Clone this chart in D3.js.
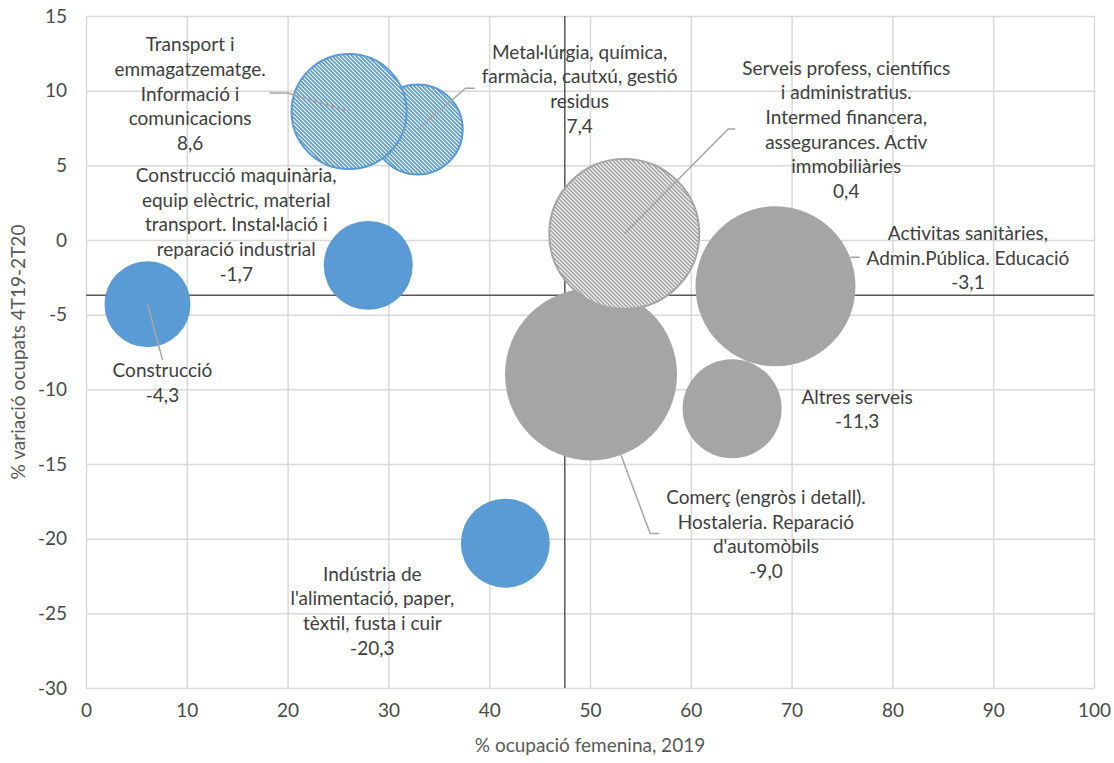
<!DOCTYPE html>
<html><head><meta charset="utf-8">
<script src="https://cdn.jsdelivr.net/npm/d3@7"></script>
<style>
body{margin:0;background:#fff}
text{font-family:Lato,"Open Sans",sans-serif}
</style>
</head><body>
<svg id="chart" width="1114" height="763"></svg>
<script>
// ---------- DATA ----------
const sectors = [
  "Construcció",
  "Construcció maquinària, equip elèctric, material transport. Instal·lació i reparació industrial",
  "Transport i emmagatzematge. Informació i comunicacions",
  "Metal·lúrgia, química, farmàcia, cautxú, gestió residus",
  "Serveis profess, científics i administratius. Intermed financera, assegurances. Activ immobiliàries",
  "Comerç (engròs i detall). Hostaleria. Reparació d'automòbils",
  "Activitas sanitàries, Admin.Pública. Educació",
  "Altres serveis",
  "Indústria de l'alimentació, paper, tèxtil, fusta i cuir"
];
const labelLines = [
  ["Construcció"],
  ["Construcció maquinària,","equip elèctric, material","transport. Instal·lació i","reparació industrial"],
  ["Transport i","emmagatzematge.","Informació i","comunicacions"],
  ["Metal·lúrgia, química,","farmàcia, cautxú, gestió","residus"],
  ["Serveis profess, científics","i administratius.","Intermed financera,","assegurances. Activ","immobiliàries"],
  ["Comerç (engròs i detall).","Hostaleria. Reparació","d'automòbils"],
  ["Activitas sanitàries,","Admin.Pública. Educació"],
  ["Altres serveis"],
  ["Indústria de","l'alimentació, paper,","tèxtil, fusta i cuir"]
];
const femShare   = [6.1, 28.0, 26.1, 32.9, 53.4, 50.1, 68.4, 64.1, 41.6];   // % ocupació femenina 2019
const empChange  = [-4.3, -1.7, 8.6, 7.4, 0.4, -9.0, -3.1, -11.3, -20.3]; // % variació ocupats
const employment = [185, 198, 331, 203, 563, 740, 640, 245, 198];          // bubble size
const fillKind   = ["blue","blue","blueHatch","blueHatch","grayHatch","gray","gray","gray","blue"];
const xTicks = d3.range(0, 101, 10);
const yTicks = d3.range(-30, 16, 5);
const xCross = 47.5, yCross = -3.7;
const xTitle = "% ocupació femenina, 2019";
const yTitle = "% variació ocupats 4T19-2T20";

// ---------- LAYOUT ----------
const plot = {left: 86, right: 1094, top: 16, bottom: 688};
const FS = 19, LH = 24.7;
const colors = {blue: "#5b9bd5", gray: "#a5a5a5", grid: "#d9d9d9", axis: "#595959", tick: "#4a4a4a", text: "#404040", leader: "#a6a6a6"};
const labelPos = [
  {dx: 15,   dy: 66,   leader: "top"},
  {dx: -132, dy: -90,  leader: null},
  {dx: -159, dy: -67,  leader: "right", elbow: 18},
  {dx: 162,  dy: -77.5,leader: "left", elbow: 9},
  {dx: 222,  dy: -166, leader: "left", elbow: 7},
  {dx: 175,  dy: 123,  leader: "left", elbow: 9},
  {dx: 192.5,dy: -53,  leader: "left", elbow: 8},
  {dx: 125,  dy: -11.6,leader: null},
  {dx: -133, dy: 31,   leader: null}
];
const drawOrder = [5, 6, 7, 4, 3, 2, 0, 1, 8];

const loc = d3.formatLocale({decimal: ",", thousands: ".", grouping: [3], currency: ["", "€"], minus: "-"});
const fmt1 = loc.format(".1f"), fmt0 = loc.format("d");

const svg = d3.select("#chart");
const x = d3.scaleLinear().domain([0, 100]).range([plot.left, plot.right]);
const y = d3.scaleLinear().domain([-30, 15]).range([plot.bottom, plot.top]);
const r = d3.scaleSqrt().domain([0, 740]).range([0, 86]);

// patterns
const defs = svg.append("defs");
function hatch(id, color) {
  const p = defs.append("pattern").attr("id", id).attr("patternUnits", "userSpaceOnUse")
    .attr("width", 4).attr("height", 4);
  p.append("rect").attr("width", 4).attr("height", 4).attr("fill", "#fff");
  p.append("path").attr("d", "M-1,-1L5,5M-1,3L1,5M3,-1L5,1")
    .attr("stroke", color).attr("stroke-width", 1.7);
}
hatch("hBlue", colors.blue);
hatch("hGray", colors.gray);
const fillOf = k => ({blue: colors.blue, gray: colors.gray, blueHatch: "url(#hBlue)", grayHatch: "url(#hGray)"})[k];
const strokeOf = k => ({blue: "none", gray: "none", blueHatch: colors.blue, grayHatch: colors.gray})[k];

// gridlines + tick labels
const gx = svg.append("g").attr("transform", `translate(0,${plot.bottom})`)
  .call(d3.axisBottom(x).tickValues(xTicks).tickSize(-(plot.bottom - plot.top)).tickFormat(fmt0).tickPadding(16));
const gy = svg.append("g").attr("transform", `translate(${plot.left},0)`)
  .call(d3.axisLeft(y).tickValues(yTicks).tickSize(-(plot.right - plot.left)).tickFormat(fmt0).tickPadding(19));
[gx, gy].forEach(g => {
  g.select(".domain").remove();
  g.selectAll(".tick line").attr("stroke", colors.grid).attr("stroke-width", 1.5);
  g.selectAll(".tick text").attr("fill", colors.tick).attr("font-size", FS).attr("font-family", "Lato");
});

// crossing lines
svg.append("line").attr("x1", x(xCross)).attr("x2", x(xCross)).attr("y1", plot.top).attr("y2", plot.bottom)
  .attr("stroke", colors.axis).attr("stroke-width", 1.5);
svg.append("line").attr("x1", plot.left).attr("x2", plot.right).attr("y1", y(yCross)).attr("y2", y(yCross))
  .attr("stroke", colors.axis).attr("stroke-width", 1.5);

// bubbles
svg.append("g").selectAll("circle").data(drawOrder).join("circle")
  .attr("cx", i => x(femShare[i])).attr("cy", i => y(empChange[i])).attr("r", i => r(employment[i]))
  .attr("fill", i => fillOf(fillKind[i])).attr("stroke", i => strokeOf(fillKind[i]))
  .attr("stroke-width", 2);

// labels + leader lines
const leaderG = svg.append("g");
const labelG = svg.append("g");
sectors.forEach((s, i) => {
  const cx = x(femShare[i]), cy = y(empChange[i]);
  const p = labelPos[i];
  const lines = labelLines[i].concat([fmt1(empChange[i])]);
  const t = labelG.append("text").attr("text-anchor", "middle").attr("font-size", FS).attr("fill", colors.text);
  lines.forEach((ln, k) => {
    t.append("tspan").attr("x", cx + p.dx).attr("y", cy + p.dy + k * LH).attr("dy", "0.35em").text(ln);
  });
  if (p.leader) {
    const b = t.node().getBBox();
    let pts;
    if (p.leader === "top") {
      pts = [[cx + p.dx, b.y + 2], [cx, cy]];
    } else if (p.leader === "left") {
      const sx = b.x - 7, my = b.y + b.height / 2;
      pts = [[sx, my], [sx - p.elbow, my], [cx, cy]];
    } else {
      const sx = b.x + b.width + 4, my = b.y + b.height / 2;
      pts = [[sx, my], [sx + p.elbow, my], [cx, cy]];
    }
    leaderG.append("path").attr("d", d3.line()(pts)).attr("fill", "none")
      .attr("stroke", colors.leader).attr("stroke-width", 1.5);
  }
});

// axis titles
svg.append("text").attr("x", (plot.left + plot.right) / 2).attr("y", 745).attr("dy", "0.35em")
  .attr("text-anchor", "middle").attr("font-size", FS).attr("fill", colors.axis).text(xTitle);
svg.append("text").attr("transform", `translate(18,${(plot.top + plot.bottom) / 2}) rotate(-90)`)
  .attr("dy", "0.35em").attr("text-anchor", "middle").attr("font-size", FS).attr("fill", colors.axis).text(yTitle);
</script>
</body></html>
